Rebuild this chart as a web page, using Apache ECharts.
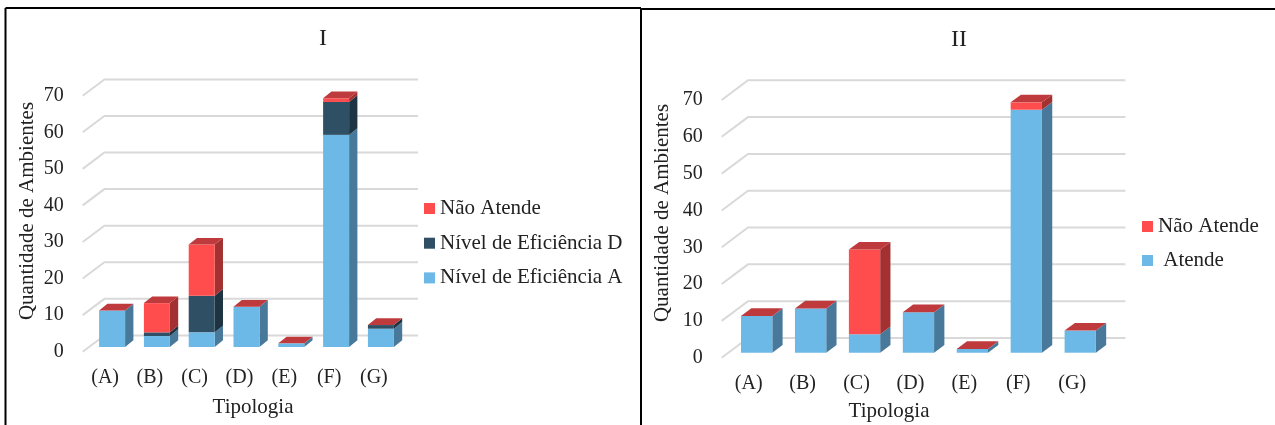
<!DOCTYPE html>
<html>
<head>
<meta charset="utf-8">
<style>
    html, body { margin: 0; padding: 0; background: #fff; }
    #main { width: 1275px; height: 425px; }
</style>
<script src="https://cdn.jsdelivr.net/npm/echarts@6/dist/echarts.min.js"></script>
</head>
<body>
<div id="main"></div>
<script>
var categories = ["(A)", "(B)", "(C)", "(D)", "(E)", "(F)", "(G)"];
var yTicks = [0, 10, 20, 30, 40, 50, 60, 70];

// 图 I
var nivelA = [10, 3, 4, 11, 1, 58, 5];
var nivelD = [0, 1, 10, 0, 0, 9, 1];
var naoAtendeI = [0, 8, 14, 0, 0, 1, 0];
// 图 II
var atende = [10, 12, 5, 11, 1, 66, 6];
var naoAtendeII = [0, 0, 23, 0, 0, 2, 0];

var FONT = "Liberation Serif";
var BLUE = { front: "#6cb8e6", side: "#48799b" };
var NAVY = { front: "#2f5064", side: "#1e3442" };
var RED = { front: "#ff4d4d", side: "#a33131" };
var TOP_RED = "#bf3a3d";

// 累计成 [类目, 底, 顶]
function stackRows(list) {
    var sum = categories.map(function() { return 0; });
    return list.map(function(values) {
        return values.map(function(v, i) {
            var row = [i, sum[i], sum[i] + v];
            sum[i] += v;
            return row;
        });
    });
}

// 后墙网格线：从前沿斜向后再水平到右边
function wallRender(p) {
    return function(params, api) {
        var pt = api.coord([0, api.value(1)]);
        var cs = params.coordSys;
        return {
            type: "polyline",
            shape: { points: [
                [cs.x, pt[1]],
                [cs.x + p.wallX, pt[1] - p.wallY],
                [cs.x + cs.width + p.wallX, pt[1] - p.wallY]
            ] },
            style: { fill: "none", stroke: "#d9d9d9", lineWidth: 2 }
        };
    };
}

// 假 3D 柱：正面 + 侧面，最上面一层加顶面
function barRender(p, colors, isLast) {
    return function(params, api) {
        var base = api.coord([api.value(0), api.value(1)]);
        var top = api.coord([api.value(0), api.value(2)]);
        var w = api.size([1, 0])[0] * 0.58;
        var x0 = base[0] + p.barX - w / 2;
        var x1 = x0 + w;
        var y0 = base[1] - p.barY;
        var y1 = top[1] - p.barY;
        var children = [];
        if (y0 - y1 > 0.01) {
            children.push({
                type: "polygon",
                shape: { points: [[x1, y0], [x1 + p.sideX, y0 - p.sideY], [x1 + p.sideX, y1 - p.sideY], [x1, y1]] },
                style: { fill: colors.side }
            });
            children.push({
                type: "rect",
                shape: { x: x0, y: y1, width: w, height: y0 - y1 },
                style: { fill: colors.front }
            });
        }
        if (isLast) {
            children.push({
                type: "polygon",
                shape: { points: [[x0, y1], [x0 + p.sideX, y1 - p.sideY], [x1 + p.sideX, y1 - p.sideY], [x1, y1]] },
                style: { fill: TOP_RED }
            });
        }
        return { type: "group", children: children };
    };
}

var panels = [{
    left: 82.7, width: 313.6, top: 95.7, height: 256,
    wallX: 21.7, wallY: 16.3, barX: 7, barY: 4.7, sideX: 8.3, sideY: 6.7,
    title: "I", titleX: 323, titleY: 39,
    yName: [27, 211], xName: [253, 407],
    legendLeft: 419, legendTop: 193, legendGap: 13.7,
    names: ["Nível de Eficiência A", "Nível de Eficiência D", "Não Atende"],
    values: [nivelA, nivelD, naoAtendeI],
    colors: [BLUE, NAVY, RED]
}, {
    left: 721.7, width: 377.5, top: 100, height: 257.7,
    wallX: 26.3, wallY: 19.7, barX: 8, barY: 5, sideX: 10.3, sideY: 7.7,
    title: "II", titleX: 959, titleY: 40,
    yName: [662.7, 213], xName: [889, 411],
    legendLeft: 1137, legendTop: 211, legendGap: 13,
    names: ["Atende", "Não Atende"],
    values: [atende, naoAtendeII],
    colors: [BLUE, RED]
}];

var grids = [], xAxes = [], yAxes = [], series = [], legends = [], graphics = [];

panels.forEach(function(p, idx) {
    grids.push({ left: p.left, top: p.top, width: p.width, height: p.height });
    xAxes.push({
        type: "category",
        gridIndex: idx,
        data: categories,
        axisLine: { show: false },
        axisTick: { show: false },
        axisLabel: { color: "#222", fontFamily: FONT, fontSize: 20, margin: 16 }
    });
    yAxes.push({
        type: "value",
        gridIndex: idx,
        min: 0,
        max: 70,
        interval: 10,
        axisLine: { show: false },
        axisTick: { show: false },
        splitLine: { show: false },
        axisLabel: { color: "#222", fontFamily: FONT, fontSize: 20, margin: 19, padding: [3, 0, 0, 0] }
    });
    series.push({
        type: "custom",
        xAxisIndex: idx,
        yAxisIndex: idx,
        silent: true,
        z: 1,
        renderItem: wallRender(p),
        encode: { x: 0, y: 1 },
        data: yTicks.map(function(t) { return [0, t]; })
    });
    stackRows(p.values).forEach(function(rows, k) {
        var isLast = k === p.values.length - 1;
        series.push({
            type: "custom",
            name: p.names[k],
            xAxisIndex: idx,
            yAxisIndex: idx,
            z: 2 + k,
            itemStyle: { color: p.colors[k].front },
            renderItem: barRender(p, p.colors[k], isLast),
            encode: { x: 0, y: [1, 2] },
            data: rows
        });
    });
    legends.push({
        orient: "vertical",
        left: p.legendLeft,
        top: p.legendTop,
        itemWidth: 11,
        itemHeight: 11,
        itemGap: p.legendGap,
        selectedMode: false,
        icon: "rect",
        data: p.names.slice().reverse(),
        // Atende 在原图里多缩进一点
        formatter: function(name) {
            return name === "Atende" ? " " + name : name;
        },
        textStyle: { color: "#222", fontFamily: FONT, fontSize: 21 }
    });
    graphics.push({
        type: "text", x: p.titleX, y: p.titleY,
        style: { text: p.title, fontFamily: FONT, fontSize: 24, fill: "#222", align: "center", verticalAlign: "middle" }
    });
    graphics.push({
        type: "text", x: p.xName[0], y: p.xName[1],
        style: { text: "Tipologia", fontFamily: FONT, fontSize: 21, fill: "#222", align: "center", verticalAlign: "middle" }
    });
    graphics.push({
        type: "text", x: p.yName[0], y: p.yName[1], rotation: Math.PI / 2,
        style: { text: "Quantidade de Ambientes", fontFamily: FONT, fontSize: 21, fill: "#222", align: "center", verticalAlign: "middle" }
    });
});

// 两个面板的黑色边框
[
    [5.5, 8, 5.5, 425],
    [5.5, 8, 641, 8],
    [641, 8, 641, 425],
    [641, 9, 1275, 9]
].forEach(function(s) {
    graphics.push({
        type: "line",
        shape: { x1: s[0], y1: s[1], x2: s[2], y2: s[3] },
        style: { stroke: "#000", lineWidth: 2 }
    });
});

var myChart = echarts.init(document.getElementById("main"));
myChart.setOption({
    animation: false,
    backgroundColor: "#fff",
    grid: grids,
    xAxis: xAxes,
    yAxis: yAxes,
    legend: legends,
    graphic: graphics,
    series: series
});
window.addEventListener("resize", function() {
    myChart.resize();
});
</script>
</body>
</html>
